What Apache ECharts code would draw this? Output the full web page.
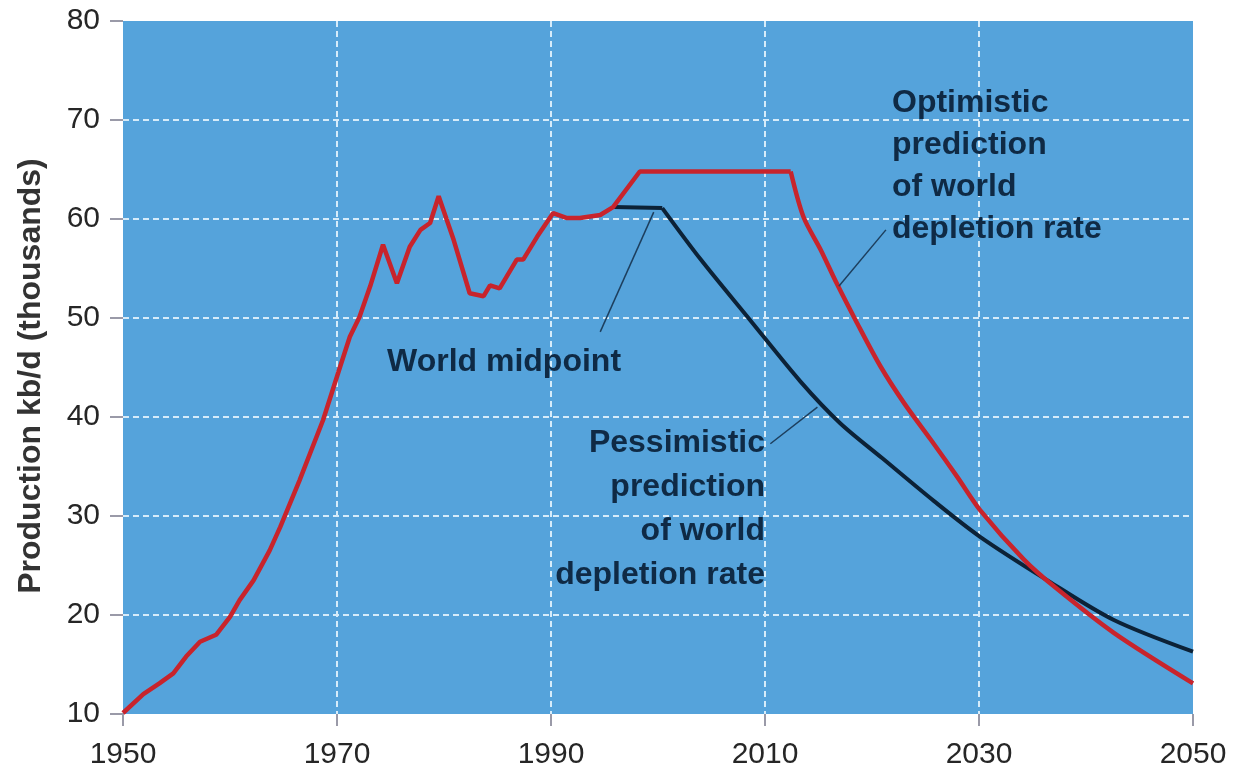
<!DOCTYPE html>
<html>
<head>
<meta charset="utf-8">
<title>World oil production</title>
<script src="https://cdn.jsdelivr.net/npm/echarts@6/dist/echarts.min.js"></script>
<style>
  html, body { margin: 0; padding: 0; background: #ffffff; }
  #chart { width: 1236px; height: 776px; }
</style>
</head>
<body>
<div id="chart"></div>
<script>
// production history (year, thousands kb/d)
const historyYears = [1950, 1951.9, 1953.4, 1954.7, 1955.9, 1957.2, 1958.7, 1960, 1960.9, 1962.2,
  1963.7, 1964.7, 1966.5, 1968.7, 1970.3, 1971.2, 1972.1, 1973.1, 1974.3, 1975.6,
  1976.8, 1977.8, 1978.7, 1979.5, 1980.9, 1982.4, 1983.7, 1984.3, 1985.2, 1986.8,
  1987.4, 1988.7, 1990.2, 1991.5, 1992.7, 1994.6, 1995.8]
const historyValues = [10.1, 12.0, 13.1, 14.1, 15.8, 17.3, 18.0, 19.8, 21.5, 23.5,
  26.5, 28.9, 33.6, 39.7, 45.1, 48.1, 50.1, 53.2, 57.4, 53.5,
  57.2, 58.9, 59.6, 62.3, 57.9, 52.5, 52.2, 53.3, 53.0, 55.9,
  55.9, 58.2, 60.6, 60.1, 60.1, 60.4, 61.2]

// optimistic: rise to plateau, then decline
const optPlateauYears = [1995.8, 1998.3, 2012.4]
const optPlateauValues = [61.2, 64.8, 64.8]
const optDeclineYears = [2012.4, 2013.6, 2015.2, 2016.7, 2018.6, 2020.8, 2023.0, 2025.5, 2028.0, 2030.1, 2034.2, 2037.0, 2042.6, 2050]
const optDeclineValues = [64.8, 60.2, 56.9, 53.5, 49.5, 45.1, 41.4, 37.7, 33.9, 30.6, 25.6, 22.9, 18.2, 13.1]

// pessimistic: short plateau, then decline
const pesPlateauYears = [1995.8, 2000.4]
const pesPlateauValues = [61.2, 61.1]
const pesDeclineYears = [2000.4, 2004.0, 2008.6, 2013.3, 2017.0, 2021.0, 2025.8, 2030.1, 2036.4, 2042.6, 2050]
const pesDeclineValues = [61.1, 55.9, 49.8, 43.6, 39.4, 35.8, 31.5, 27.9, 23.5, 19.5, 16.3]

// leader lines of the annotations: [[year, value], [year, value]]
const leaderLines = [
  [[1994.6, 48.6], [1999.6, 60.7]],
  [[2016.9, 53.2], [2021.3, 58.9]],
  [[2010.5, 37.3], [2014.9, 41.0]]
]

const xTicks = { min: 1950, max: 2050, interval: 20 }
const yTicks = { min: 10, max: 80, interval: 10 }

function pairs (xs, ys) {
  return xs.map((x, i) => [x, ys[i]])
}

const RED = '#c8242c'
const NAVY = '#0c2237'
const TEXT = '#0f2a45'
const labelFont = '"Liberation Sans", Arial, sans-serif'

let myChart = echarts.init(document.getElementById('chart'))
myChart.setOption({
  animation: false,
  backgroundColor: '#ffffff',
  grid: {
    left: 123,
    right: 43,
    top: 21,
    bottom: 62,
    show: true,
    backgroundColor: '#55a3db',
    borderWidth: 0
  },
  xAxis: {
    type: 'value',
    min: xTicks.min,
    max: xTicks.max,
    interval: xTicks.interval,
    axisLine: { show: false },
    axisTick: { show: true, length: 12, lineStyle: { color: '#9a9aa8', width: 2 } },
    axisLabel: {
      color: '#262626',
      fontSize: 30,
      fontFamily: labelFont,
      margin: 26,
      formatter: v => String(v)
    },
    splitLine: {
      show: true,
      showMinLine: false,
      showMaxLine: false,
      lineStyle: { color: '#d6ecfa', width: 2, type: [6, 4] }
    }
  },
  yAxis: {
    type: 'value',
    min: yTicks.min,
    max: yTicks.max,
    interval: yTicks.interval,
    axisLine: { show: false },
    axisTick: { show: true, length: 13, lineStyle: { color: '#9a9aa8', width: 2 } },
    axisLabel: {
      color: '#262626',
      fontSize: 30,
      fontFamily: labelFont,
      margin: 23
    },
    splitLine: {
      show: true,
      showMinLine: false,
      showMaxLine: false,
      lineStyle: { color: '#d6ecfa', width: 2, type: [6, 4] }
    }
  },
  graphic: [
    {
      type: 'text',
      x: 31,
      y: 376,
      rotation: Math.PI / 2,
      style: {
        text: 'Production kb/d (thousands)',
        fill: '#333333',
        font: 'bold 32px ' + labelFont,
        align: 'center',
        verticalAlign: 'middle'
      }
    },
    {
      type: 'text',
      x: 892,
      y: 166,
      z: 10,
      style: {
        text: 'Optimistic\nprediction\nof world\ndepletion rate',
        fill: TEXT,
        font: 'bold 32px ' + labelFont,
        lineHeight: 42,
        align: 'left',
        verticalAlign: 'middle'
      }
    },
    {
      type: 'text',
      x: 387,
      y: 362,
      z: 10,
      style: {
        text: 'World midpoint',
        fill: TEXT,
        font: 'bold 32px ' + labelFont,
        align: 'left',
        verticalAlign: 'middle'
      }
    },
    {
      type: 'text',
      x: 765,
      y: 509,
      z: 10,
      style: {
        text: 'Pessimistic\nprediction\nof world\ndepletion rate',
        fill: TEXT,
        font: 'bold 32px ' + labelFont,
        lineHeight: 44,
        align: 'right',
        verticalAlign: 'middle'
      }
    }
  ],
  series: [
    {
      id: 'pessimisticPlateau',
      type: 'line',
      symbol: 'none',
      data: pairs(pesPlateauYears, pesPlateauValues),
      lineStyle: { color: NAVY, width: 4 },
      z: 3
    },
    {
      id: 'pessimisticDecline',
      type: 'line',
      symbol: 'none',
      smooth: 0.3,
      data: pairs(pesDeclineYears, pesDeclineValues),
      lineStyle: { color: NAVY, width: 4 },
      z: 3
    },
    {
      id: 'history',
      type: 'line',
      symbol: 'none',
      data: pairs(historyYears, historyValues).concat(pairs(optPlateauYears, optPlateauValues).slice(1)),
      lineStyle: { color: RED, width: 4.5 },
      z: 4
    },
    {
      id: 'optimisticDecline',
      type: 'line',
      symbol: 'none',
      smooth: 0.3,
      data: pairs(optDeclineYears, optDeclineValues),
      lineStyle: { color: RED, width: 4.5 },
      z: 4
    },
    {
      id: 'leaders',
      type: 'line',
      data: [],
      markLine: {
        silent: true,
        symbol: 'none',
        label: { show: false },
        lineStyle: { color: '#1d3f5e', width: 1.5, type: 'solid' },
        data: leaderLines.map(l => [{ coord: l[0] }, { coord: l[1] }])
      },
      z: 5
    }
  ]
})
window.addEventListener('resize', () => {
  myChart.resize()
})
</script>
</body>
</html>
